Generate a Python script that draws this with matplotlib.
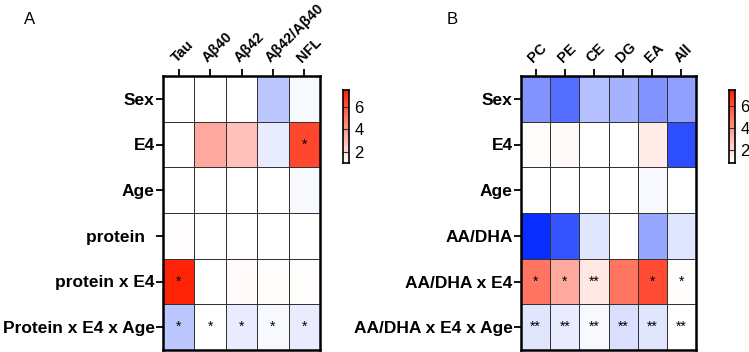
"""
Two heatmaps (A: CSF markers, B: lipid classes) with star annotations.
"""

import numpy as np
import matplotlib.pyplot as plt
from matplotlib.colors import LinearSegmentedColormap, Normalize

plt.rcParams["font.family"] = ["Liberation Sans", "DejaVu Sans"]

ROWS_A = ["Sex", "E4", "Age", "protein  ", "protein x E4", "Protein x E4 x Age"]
COLS_A = ["Tau", "Aβ40", "Aβ42", "Aβ42/Aβ40", "NFL"]
VALS_A = [
    [1.00, 1.00, 1.00, 0.75, 0.99],
    [1.00, 3.50, 2.80, 0.93, 6.30],
    [1.00, 1.00, 1.00, 1.00, 0.97],
    [1.08, 1.00, 1.00, 1.00, 1.00],
    [7.30, 1.00, 1.15, 1.10, 1.10],
    [0.75, 1.00, 0.92, 0.97, 0.93],
]
STARS_A = [
    ["", "", "", "", ""],
    ["", "", "", "", "*"],
    ["", "", "", "", ""],
    ["", "", "", "", ""],
    ["*", "", "", "", ""],
    ["*", "*", "*", "*", "*"],
]

ROWS_B = ["Sex", "E4", "Age", "AA/DHA", "AA/DHA x E4", "AA/DHA x E4 x Age"]
COLS_B = ["PC", "PE", "CE", "DG", "EA", "All"]
VALS_B = [
    [0.50, 0.35, 0.72, 0.65, 0.50, 0.58],
    [1.10, 1.20, 1.00, 1.00, 1.60, 0.20],
    [1.00, 1.00, 1.00, 1.00, 0.99, 1.00],
    [0.05, 0.22, 0.88, 1.00, 0.60, 0.88],
    [5.00, 3.50, 1.70, 5.00, 6.20, 1.10],
    [0.90, 0.92, 0.97, 0.85, 0.90, 1.00],
]
STARS_B = [
    [""] * 6,
    [""] * 6,
    [""] * 6,
    [""] * 6,
    ["*", "*", "**", "", "*", "*"],
    ["**"] * 6,
]

VMAX = 7.5
CMAP = LinearSegmentedColormap.from_list(
    "bwr_prism",
    [(0.0, "#0028ff"), (1.0 / VMAX, "#ffffff"), (1.0, "#ff1e00")],
)
NORM = Normalize(0, VMAX)

W, H = 749, 352


def fx(px):
    return px / W


def fy(px):
    return 1 - px / H


def heatmap(fig, rect, vals, stars, rows, cols):
    ax = fig.add_axes(rect)
    data = np.array(vals)
    ax.pcolormesh(data, cmap=CMAP, norm=NORM, edgecolors="#333333", linewidth=0.6)
    ax.set_xlim(0, data.shape[1])
    ax.set_ylim(data.shape[0], 0)
    for i, row in enumerate(stars):
        for j, s in enumerate(row):
            if s:
                ax.text(j + 0.5, i + 0.5, s, ha="center", va="center", fontsize=10)
    ax.xaxis.tick_top()
    ax.set_xticks(np.arange(data.shape[1]) + 0.5)
    ax.set_xticklabels(cols, rotation=45, ha="left", rotation_mode="anchor",
                       fontsize=10.5, fontweight="bold")
    ax.set_yticks(np.arange(data.shape[0]) + 0.5)
    ax.set_yticklabels(rows, fontsize=12.5, fontweight="bold")
    ax.tick_params(axis="both", length=5, width=1.3, pad=1)
    ax.tick_params(axis="x", pad=3)
    for sp in ax.spines.values():
        sp.set_linewidth(1.8)
    return ax


def colorbar(fig, rect, lo):
    cax = fig.add_axes(rect)
    ys = np.linspace(lo, VMAX, 200)
    cax.pcolormesh([0, 1], ys, ys[:-1, None], cmap=CMAP, norm=NORM)
    cax.set_ylim(lo, VMAX)
    cax.set_xlim(0, 1)
    cax.set_xticks([])
    cax.yaxis.tick_right()
    cax.set_yticks([2, 4, 6])
    cax.tick_params(axis="y", length=0, labelsize=12, pad=4)
    for t in [2, 4, 6]:
        cax.axhline(t, color="#333333", lw=0.8)
    for sp in cax.spines.values():
        sp.set_linewidth(1.2)


fig = plt.figure(figsize=(W / 100, H / 100), dpi=100)

heatmap(fig, [fx(163), fy(350), fx(320 - 163), (350 - 76) / H],
        VALS_A, STARS_A, ROWS_A, COLS_A)
heatmap(fig, [fx(521), fy(350), fx(696 - 521), (350 - 76) / H],
        VALS_B, STARS_B, ROWS_B, COLS_B)

colorbar(fig, [fx(343), fy(163), fx(6), (163 - 90) / H], 1.0)
colorbar(fig, [fx(729), fy(163), fx(6), (163 - 90) / H], 0.85)

fig.text(fx(24), fy(19), "A", fontsize=12, va="center")
fig.text(fx(447), fy(19), "B", fontsize=12, va="center")

fig.savefig("out.png", dpi=100)
